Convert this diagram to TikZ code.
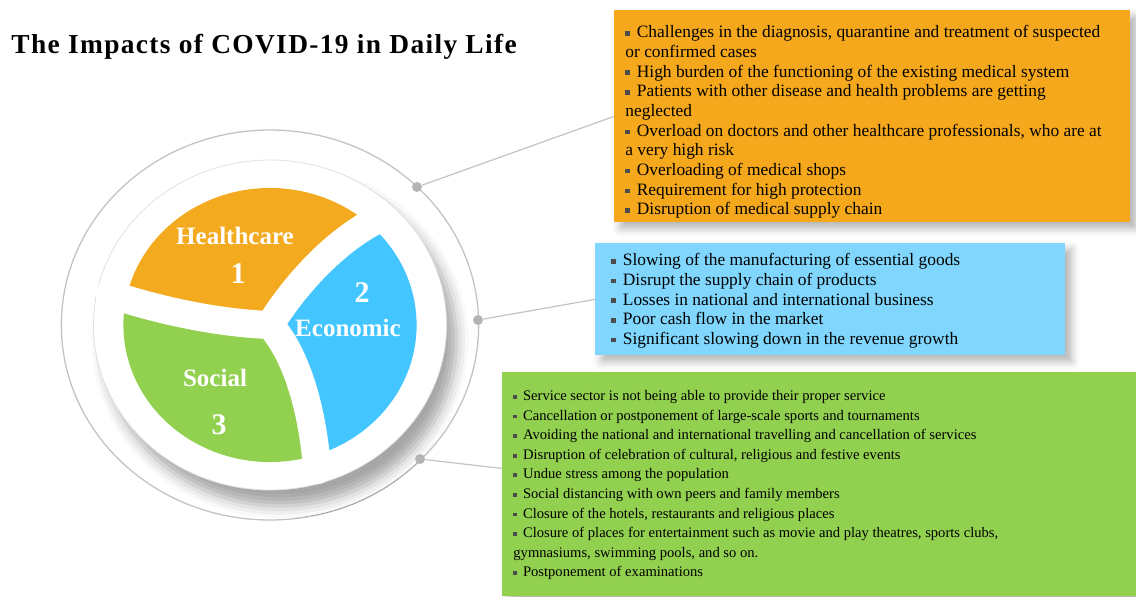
\documentclass[tikz,border=0pt]{standalone}
\usepackage{fontspec}
\setmainfont{Liberation Serif}
\newfontfamily\titlefont[LetterSpace=5]{Liberation Serif}
\usepackage{tikz}
\usetikzlibrary{positioning, shadows.blur}
\definecolor{colorHealth}{RGB}{244,170,30}
\definecolor{colorHealthBox}{RGB}{245,168,28}
\definecolor{colorEcon}{RGB}{67,197,255}
\definecolor{colorEconBox}{RGB}{128,214,253}
\definecolor{colorSocial}{RGB}{146,208,80}
\definecolor{colorRing}{RGB}{195,195,195}
\definecolor{colorDot}{RGB}{180,180,180}
\newcommand{\bul}{\textcolor{black!70}{\rule[0.12em]{0.26em}{0.26em}}\hspace{0.4em}}
\tikzset{
  infobox/.style={rectangle, anchor=north west, inner sep=0pt, blur shadow={shadow xshift=3pt, shadow yshift=-3pt, shadow blur radius=4pt, shadow opacity=30}},
  infotext/.style={anchor=north west, inner sep=0pt, align=left, font=\fontsize{8.7}{9.85}\selectfont},
  seglabel/.style={text=white, inner sep=1pt, font=\bfseries\fontsize{12.5}{14}\selectfont},
  segnum/.style={text=white, inner sep=1pt, font=\bfseries\fontsize{15}{17}\selectfont},
  gap/.style={white, line width=14pt, line cap=round},
  link/.style={colorRing, line width=0.6pt},
  dot/.style={circle, fill=colorDot, inner sep=0pt, minimum size=5pt},
}

\begin{document}
\begin{tikzpicture}[x=0.5pt, y=-0.5pt]
\useasboundingbox (0,0) rectangle (1136,596);
\node[anchor=base west, inner sep=0pt, font=\titlefont\bfseries\fontsize{13.7}{16}\selectfont] (title) at (11,53) {The Impacts of COVID-19 in Daily Life};

% ring and disc
\begin{scope}[shift={(270,325)}, xscale=1.07]
\draw[colorRing, line width=0.65pt] (0,0) circle[radius=195];
\fill[white, blur shadow={shadow xshift=5pt, shadow yshift=-8pt, shadow blur radius=6pt, shadow opacity=35}] (0,0) circle[radius=165];
\draw[black!12, line width=0.4pt] (0,0) circle[radius=165];
% the three sectors
\fill[colorHealth] (0,0) -- (-168:137) arc[start angle=-168, end angle=-46, radius=137] -- cycle;
\fill[colorEcon] (0,0) -- (-46:137) arc[start angle=-46, end angle=73, radius=137] -- cycle;
\fill[colorSocial] (0,0) -- (73:137) arc[start angle=73, end angle=192, radius=137] -- cycle;
\draw[gap] (0,0) .. controls (22,-38) and (60,-85) .. (105,-108);
\draw[gap] (0,0) .. controls (-50,-2) and (-105,-15) .. (-150,-31);
\draw[gap] (0,0) .. controls (25,30) and (40,85) .. (44,145);
\end{scope}

\node[seglabel] (heal) at (235,236) {Healthcare};
\node[segnum, below=7pt of heal, xshift=1.5pt] (n1) {1};
\node[seglabel] (econ) at (348,328) {Economic};
\node[segnum, above=6pt of econ, xshift=7pt] (n2) {2};
\node[seglabel] (soc) at (215,378) {Social};
\node[segnum, below=11.5pt of soc, xshift=2pt] (n3) {3};

% boxes
\node[infobox, fill=colorHealthBox, minimum width=258pt, minimum height=106pt] (hbox) at (614,10) {};
\node[infobox, fill=colorEconBox, minimum width=235pt, minimum height=56pt] (ebox) at (595,243) {};
\node[infobox, fill=colorSocial, minimum width=317pt, minimum height=112pt] (sbox) at (502,372) {};

\node[dot] (d1) at (417,187) {};
\node[dot] (d2) at (478,320) {};
\node[dot] (d3) at (420,459) {};
\draw[link] (d1) -- (hbox.west);
\draw[link] (d2) -- (ebox.west);
\draw[link] (d3) -- ([yshift=8pt]sbox.west);

\node[infotext] (htext) at ([shift={(11,15)}]hbox.north west) {\bul Challenges in the diagnosis, quarantine and treatment of suspected\\
or confirmed cases\\
\bul High burden of the functioning of the existing medical system\\
\bul Patients with other disease and health problems are getting\\
neglected\\
\bul Overload on doctors and other healthcare professionals, who are at\\
a very high risk\\
\bul Overloading of medical shops\\
\bul Requirement for high protection\\
\bul Disruption of medical supply chain};
\node[infotext] (etext) at ([shift={(16,10)}]ebox.north west) {\bul Slowing of the manufacturing of essential goods\\
\bul Disrupt the supply chain of products\\
\bul Losses in national and international business\\
\bul Poor cash flow in the market\\
\bul Significant slowing down in the revenue growth};
\node[infotext, font=\fontsize{7.3}{9.8}\selectfont] (stext) at ([shift={(11,18)}]sbox.north west) {\bul Service sector is not being able to provide their proper service\\
\bul Cancellation or postponement of large-scale sports and tournaments\\
\bul Avoiding the national and international travelling and cancellation of services\\
\bul Disruption of celebration of cultural, religious and festive events\\
\bul Undue stress among the population\\
\bul Social distancing with own peers and family members\\
\bul Closure of the hotels, restaurants and religious places\\
\bul Closure of places for entertainment such as movie and play theatres, sports clubs,\\
gymnasiums, swimming pools, and so on.\\
\bul Postponement of examinations};
\end{tikzpicture}
\end{document}
